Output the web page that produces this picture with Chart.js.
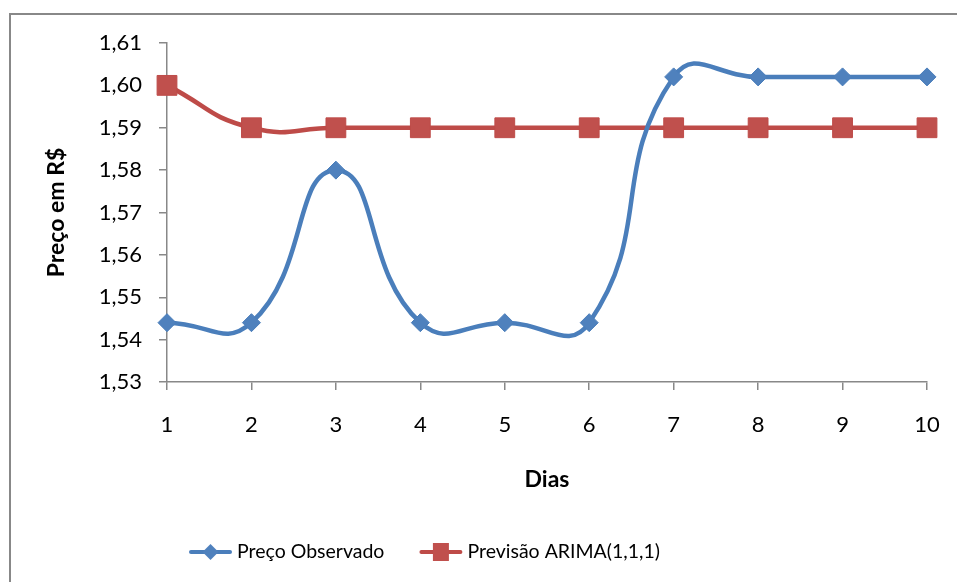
<!DOCTYPE html>
<html>
<head>
<meta charset="utf-8">
<script src="https://cdn.jsdelivr.net/npm/chart.js@4/dist/chart.umd.min.js"></script>
<style>
  html, body { margin: 0; padding: 0; background: #fff; }
  #wrap { width: 957px; height: 582px; }
</style>
</head>
<body>
<div id="wrap"><canvas id="c" width="957" height="582"></canvas></div>
<script>
// Dias observados
const dias = ['1', '2', '3', '4', '5', '6', '7', '8', '9', '10'];
// Preço observado (R$)
const precoObservado = [1.544, 1.544, 1.58, 1.544, 1.544, 1.544, 1.602, 1.602, 1.602, 1.602];
// Previsão do modelo ARIMA(1,1,1) (R$)
const previsaoArima = [1.60, 1.59, 1.59, 1.59, 1.59, 1.59, 1.59, 1.59, 1.59, 1.59];
// Eixo de preços
const yMin = 1.53;
const yMax = 1.61;
const yStep = 0.01;

const AZUL = '#4A7EBB';
const AZUL_MARCA = '#4F81BD';
const VERMELHO = '#BE4B48';
const VERMELHO_MARCA = '#C0504D';
const CINZA = '#888888';
const FONTE = 'Lato, "Open Sans", sans-serif';

// Outer frame of the chart object
const moldura = {
  id: 'moldura',
  beforeDraw(chart) {
    const ctx = chart.ctx;
    ctx.save();
    ctx.fillStyle = '#ffffff';
    ctx.fillRect(0, 0, chart.width, chart.height);
    ctx.strokeStyle = CINZA;
    ctx.lineWidth = 2;
    ctx.strokeRect(10, 14, chart.width + 20, chart.height + 20);
    ctx.restore();
  }
};

// Legend row under the axis: line segment with the series marker, then the label
const legenda = {
  id: 'legenda',
  afterDraw(chart) {
    const ctx = chart.ctx;
    const y = 552;
    let x = 189;
    ctx.save();
    ctx.font = '19.5px ' + FONTE;
    ctx.textBaseline = 'middle';
    ctx.textAlign = 'left';
    chart.data.datasets.forEach((ds, i) => {
      const w = 43;
      ctx.strokeStyle = ds.borderColor;
      ctx.lineWidth = 4;
      ctx.lineCap = 'round';
      ctx.beginPath();
      ctx.moveTo(x + 2, y);
      ctx.lineTo(x + w - 2, y);
      ctx.stroke();
      ctx.fillStyle = ds.pointBackgroundColor;
      const cx = x + w / 2;
      ctx.beginPath();
      if (ds.pointStyle === 'rectRot') {
        const r = 8;
        ctx.moveTo(cx - r, y);
        ctx.lineTo(cx, y - r);
        ctx.lineTo(cx + r, y);
        ctx.lineTo(cx, y + r);
        ctx.closePath();
      } else {
        ctx.rect(cx - 8, y - 9, 16, 18);
      }
      ctx.fill();
      ctx.fillStyle = '#000';
      const tx = x + w + 5;
      ctx.fillText(ds.label, tx, y);
      x = tx + ctx.measureText(ds.label).width + 35;
    });
    ctx.restore();
  }
};

new Chart(document.getElementById('c'), {
  type: 'line',
  data: {
    labels: dias,
    datasets: [
      {
        label: 'Preço Observado',
        data: precoObservado,
        borderColor: AZUL,
        backgroundColor: AZUL_MARCA,
        borderWidth: 4.5,
        tension: 0.5,
        pointStyle: 'rectRot',
        pointRadius: 9,
        pointHoverRadius: 9,
        pointBackgroundColor: AZUL_MARCA,
        pointBorderColor: AZUL,
        pointBorderWidth: 1
      },
      {
        label: 'Previsão ARIMA(1,1,1)',
        data: previsaoArima,
        borderColor: VERMELHO,
        backgroundColor: VERMELHO_MARCA,
        borderWidth: 4.5,
        tension: 0.5,
        pointStyle: 'rect',
        pointRadius: 14,
        pointHoverRadius: 14,
        pointBackgroundColor: VERMELHO_MARCA,
        pointBorderColor: VERMELHO,
        pointBorderWidth: 1
      }
    ]
  },
  options: {
    responsive: false,
    animation: false,
    layout: { autoPadding: false, padding: { left: 10, top: 43, right: 30, bottom: 0 } },
    plugins: {
      tooltip: { enabled: false },
      legend: { display: false }
    },
    scales: {
      x: {
        offset: false,
        grid: { drawOnChartArea: false, drawTicks: true, tickLength: 8, color: CINZA, lineWidth: 1.5 },
        border: { display: true, color: CINZA, width: 1.5 },
        ticks: { color: '#000', font: { family: FONTE, size: 22 }, padding: 22, maxRotation: 0 },
        title: {
          display: true,
          text: 'Dias',
          color: '#000',
          font: { family: FONTE, size: 23, weight: 'bold' },
          padding: { top: 0, bottom: 89 }
        },
        afterFit(scale) {
          scale.height = 200;
          // the end labels fit inside the outer padding; no extra side room needed
          scale.paddingLeft = 0;
          scale.paddingRight = 0;
        }
      },
      y: {
        min: yMin,
        max: yMax,
        grid: { drawOnChartArea: false, drawTicks: true, tickLength: 8, color: CINZA, lineWidth: 1.5 },
        border: { display: true, color: CINZA, width: 1.5 },
        ticks: {
          stepSize: yStep,
          color: '#000',
          font: { family: FONTE, size: 22 },
          padding: 17,
          callback: v => Number(v).toFixed(2).replace('.', ',')
        },
        title: {
          display: true,
          text: 'Preço em R$',
          color: '#000',
          font: { family: FONTE, size: 23, weight: 'bold' },
          padding: { top: 33, bottom: 0 }
        },
        afterFit(scale) { scale.width = 157; }
      }
    }
  },
  plugins: [moldura, legenda]
});
</script>
</body>
</html>
